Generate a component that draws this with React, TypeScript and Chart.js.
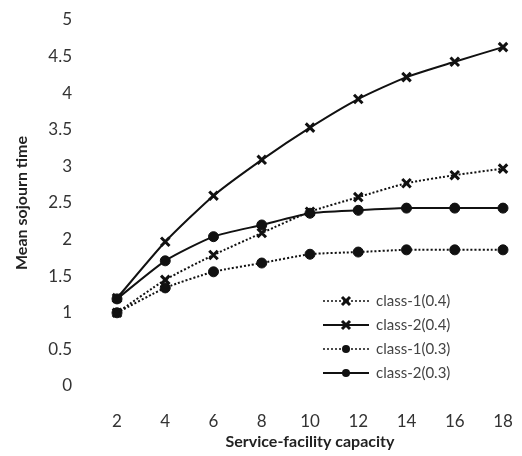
import React, { useEffect, useRef } from "react";
import { Chart, registerables } from "chart.js";
Chart.register(...registerables);

const capacities = ["2", "4", "6", "8", "10", "12", "14", "16", "18"];
const class1_04 = [1.0, 1.45, 1.79, 2.09, 2.38, 2.58, 2.77, 2.88, 2.97];
const class2_04 = [1.2, 1.97, 2.6, 3.09, 3.53, 3.92, 4.22, 4.43, 4.63];
const class1_03 = [1.0, 1.34, 1.56, 1.68, 1.8, 1.83, 1.86, 1.86, 1.86];
const class2_03 = [1.19, 1.71, 2.04, 2.2, 2.36, 2.4, 2.43, 2.43, 2.43];
const seriesLabels = ["class-1(0.4)", "class-2(0.4)", "class-1(0.3)", "class-2(0.3)"];
const yTitle = "Mean sojourn time";
const xTitle = "Service-facility capacity";

const FONT = "Lato, 'Open Sans', sans-serif";

const insideLegend = {
  id: "insideLegend",
  afterDraw(chart: any) {
    const { ctx, chartArea } = chart;
    const left = chartArea.left + 206;
    const top = chartArea.top + 281;
    const rowH = 24;
    ctx.save();
    chart.data.datasets.forEach((ds: any, i: number) => {
      const y = top + i * rowH;
      const dotted = ds.borderDash && ds.borderDash.length;
      ctx.strokeStyle = "#111";
      ctx.lineWidth = dotted ? 1.5 : 2;
      ctx.setLineDash(ds.borderDash || []);
      ctx.beginPath();
      ctx.moveTo(left, y);
      ctx.lineTo(left + 46, y);
      ctx.stroke();
      ctx.setLineDash([]);
      const cx = left + 23;
      if (ds.pointStyle === "crossRot") {
        const r = 4;
        ctx.lineWidth = 3;
        ctx.beginPath();
        ctx.moveTo(cx - r, y - r);
        ctx.lineTo(cx + r, y + r);
        ctx.moveTo(cx - r, y + r);
        ctx.lineTo(cx + r, y - r);
        ctx.stroke();
      } else {
        ctx.fillStyle = "#111";
        ctx.beginPath();
        ctx.arc(cx, y, 4, 0, Math.PI * 2);
        ctx.fill();
      }
      ctx.fillStyle = "#444";
      ctx.font = `15px ${FONT}`;
      ctx.textAlign = "left";
      ctx.textBaseline = "middle";
      ctx.fillText(ds.label, left + 53, y);
    });
    ctx.restore();
  },
};

export default function App() {
  const ref = useRef<HTMLCanvasElement>(null);
  useEffect(() => {
    if (!ref.current) return;
    const mk = (label: string, data: number[], dotted: boolean, style: string) => ({
      label,
      data,
      borderColor: "#111",
      backgroundColor: "#111",
      borderWidth: 2,
      borderDash: dotted ? [2, 2] : [],
      pointStyle: style,
      pointRadius: style === "crossRot" ? 6 : 5,
      pointBorderWidth: style === "crossRot" ? 3 : 1,
      pointBackgroundColor: "#111",
      pointBorderColor: "#111",
      tension: 0.2,
      clip: false as any,
    });
    const chart = new Chart(ref.current, {
      type: "line",
      data: {
        labels: capacities,
        datasets: [
          mk(seriesLabels[0], class1_04, true, "crossRot"),
          mk(seriesLabels[1], class2_04, false, "crossRot"),
          mk(seriesLabels[2], class1_03, true, "circle"),
          mk(seriesLabels[3], class2_03, false, "circle"),
        ],
      },
      options: {
        animation: false,
        responsive: false,
        layout: { padding: { top: 20, right: 19, bottom: 0, left: 8 } },
        plugins: { legend: { display: false }, tooltip: { enabled: false } },
        scales: {
          x: {
            offset: false,
            grid: { display: false, drawTicks: false },
            border: { display: false },
            afterFit: (s: any) => {
              s.height = 70;
              s.paddingLeft = 8;
              s.paddingRight = 8;
            },
            ticks: { color: "#333", font: { family: FONT, size: 17 }, padding: 25 },
            title: {
              display: true,
              text: xTitle,
              color: "#222",
              font: { family: FONT, size: 16, weight: "bold" },
              padding: { top: 0, bottom: 5 },
            },
          },
          y: {
            min: 0,
            max: 5,
            grid: { display: false, drawTicks: false },
            border: { display: false },
            afterFit: (s: any) => {
              s.width = 109;
              s.paddingTop = 8;
              s.paddingBottom = 8;
            },
            ticks: {
              stepSize: 0.5,
              color: "#333",
              font: { family: FONT, size: 17 },
              padding: 45,
              callback: (v: any) => String(Number(v)),
            },
            title: {
              display: true,
              text: yTitle,
              color: "#222",
              font: { family: FONT, size: 16, weight: "bold" },
              padding: { top: 4, bottom: 0 },
            },
          },
        },
      },
      plugins: [insideLegend],
    });
    return () => chart.destroy();
  }, []);
  return (
    <div style={{ position: "absolute", left: 0, top: 0, width: 522, height: 456, background: "#fff" }}>
      <canvas ref={ref} width={522} height={456} />
    </div>
  );
}
